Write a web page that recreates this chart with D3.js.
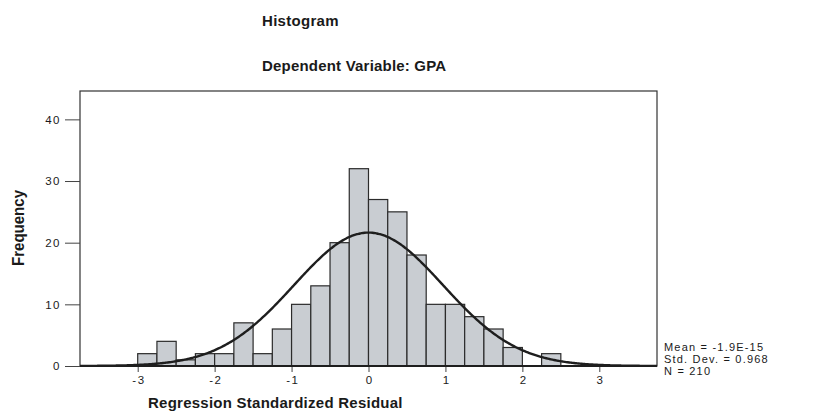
<!DOCTYPE html>
<html>
<head>
<meta charset="utf-8">
<script src="https://cdn.jsdelivr.net/npm/d3@7"></script>
<style>
  body { margin: 0; background: #fff; }
  text { font-family: "Liberation Sans", Arial, sans-serif; fill: #1a1a1a; }
</style>
</head>
<body>
<div id="chart"></div>
<script>
// residual bins (lower edge, width 0.25) and their counts
const binStarts = [-3, -2.75, -2.5, -2.25, -2, -1.75, -1.5, -1.25, -1, -0.75, -0.5, -0.25,
                   0, 0.25, 0.5, 0.75, 1, 1.25, 1.5, 1.75, 2, 2.25];
const binCounts = [2, 4, 1, 2, 2, 7, 2, 6, 10, 13, 20, 32,
                   27, 25, 18, 10, 10, 8, 6, 3, 0, 2];
const binWidth = 0.25;

// summary stats shown at the right
const statMean = -1.9e-15;
const statSd = 0.968;
const statN = 210;
const statLabels = ["Mean = -1.9E-15", "Std. Dev. = 0.968", "N = 210"];

const xTicks = [-3, -2, -1, 0, 1, 2, 3];
const yTicks = [0, 10, 20, 30, 40];

const W = 814, H = 411;
const plot = {left: 80, right: 657, top: 91, bottom: 366};

const svg = d3.select("#chart")
  .append("svg")
    .attr("width", W)
    .attr("height", H);

svg.append("rect").attr("width", W).attr("height", H).attr("fill", "#fff");

const x = d3.scaleLinear()
  .domain([-3.75, 3.75])
  .range([plot.left, plot.right]);

const y = d3.scaleLinear()
  .domain([0, 44.6])
  .range([plot.bottom, plot.top]);

// frame
svg.append("rect")
  .attr("x", plot.left)
  .attr("y", plot.top)
  .attr("width", plot.right - plot.left)
  .attr("height", plot.bottom - plot.top)
  .attr("fill", "none")
  .attr("stroke", "#333")
  .attr("stroke-width", 1.2);

// bars
svg.append("g")
  .selectAll("rect")
  .data(binStarts.map((s, i) => ({s: s, n: binCounts[i]})).filter(d => d.n > 0))
  .join("rect")
    .attr("x", d => x(d.s))
    .attr("y", d => y(d.n))
    .attr("width", d => x(d.s + binWidth) - x(d.s))
    .attr("height", d => y(0) - y(d.n))
    .attr("fill", "#c9cdd2")
    .attr("stroke", "#2b2b2b")
    .attr("stroke-width", 1.2);

// normal curve from mean / sd / N
const pts = d3.range(-3.75, 3.7501, 0.02).map(v => {
  const z = (v - statMean) / statSd;
  return [v, statN * binWidth * Math.exp(-0.5 * z * z) / (statSd * Math.sqrt(2 * Math.PI))];
});
svg.append("path")
  .datum(pts)
  .attr("fill", "none")
  .attr("stroke", "#1e1e1e")
  .attr("stroke-width", 2.4)
  .attr("d", d3.line().x(d => x(d[0])).y(d => y(d[1])).curve(d3.curveBasis));

// y axis
const yAxis = svg.append("g")
  .attr("transform", "translate(" + plot.left + ",0)")
  .call(d3.axisLeft(y).tickValues(yTicks).tickSize(15).tickPadding(4));
yAxis.select(".domain").remove();
yAxis.selectAll("line").attr("stroke", "#444");
yAxis.selectAll("text")
  .attr("font-size", 11.5).attr("font-family", null)
  .attr("letter-spacing", 1.5);

// x axis
const xAxis = svg.append("g")
  .attr("transform", "translate(0," + plot.bottom + ")")
  .call(d3.axisBottom(x).tickValues(xTicks).tickSize(6).tickPadding(4));
xAxis.select(".domain").remove();
xAxis.selectAll("line").attr("stroke", "#444");
xAxis.selectAll("text")
  .attr("font-size", 11.5).attr("font-family", null)
  .attr("letter-spacing", 1.5)
  .attr("dx", 0.75)
  .text(d => d < 0 ? "-" + Math.abs(d) : d);

// heavier baseline
svg.append("line")
  .attr("x1", plot.left).attr("x2", plot.right)
  .attr("y1", y(0)).attr("y2", y(0))
  .attr("stroke", "#1e1e1e")
  .attr("stroke-width", 2);

// titles
svg.append("text")
  .attr("x", 262).attr("y", 26)
  .attr("font-size", 15).attr("font-weight", "bold")
  .attr("letter-spacing", 0.3)
  .text("Histogram");
svg.append("text")
  .attr("x", 262).attr("y", 71)
  .attr("font-size", 15).attr("font-weight", "bold")
  .attr("letter-spacing", 0.2)
  .text("Dependent Variable: GPA");

svg.append("text")
  .attr("x", 148).attr("y", 408)
  .attr("font-size", 15).attr("font-weight", "bold")
  .attr("letter-spacing", 0.25)
  .text("Regression Standardized Residual");

svg.append("text")
  .attr("transform", "translate(24,228) rotate(-90)")
  .attr("text-anchor", "middle")
  .attr("font-size", 17).attr("font-weight", "bold")
  .attr("textLength", 76).attr("lengthAdjust", "spacingAndGlyphs")
  .text("Frequency");

// stats block
svg.append("g")
  .selectAll("text")
  .data(statLabels)
  .join("text")
    .attr("x", 664)
    .attr("y", (d, i) => 351 + i * 12)
    .attr("font-size", 11)
    .attr("letter-spacing", 1.2)
    .text(d => d);
</script>
</body>
</html>
